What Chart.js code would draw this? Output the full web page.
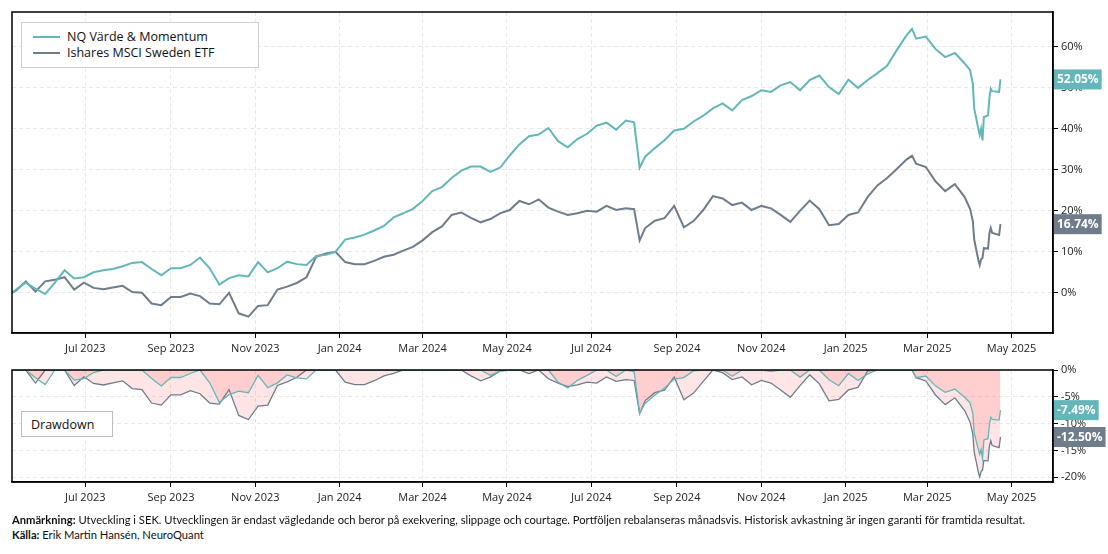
<!DOCTYPE html>
<html>
<head>
<meta charset="utf-8">
<script src="https://cdn.jsdelivr.net/npm/chart.js@4.4.1/dist/chart.umd.min.js"></script>
<style>
  body { margin: 0; width: 1108px; height: 554px; background: #fff; position: relative; overflow: hidden; font-family: "Open Sans", sans-serif; color: #111; }
  #topWrap { position: absolute; left: 0; top: 0; width: 1108px; height: 362px; }
  #ddWrap { position: absolute; left: 0; top: 358px; width: 1108px; height: 152px; }
  .legend { position: absolute; left: 21px; top: 22px; width: 236px; height: 44px; border: 1px solid #cfcfcf; background: #fff; font-size: 12.5px; }
  .legend .row { position: absolute; left: 11px; height: 16px; line-height: 16px; white-space: nowrap; }
  .legend .swatch { display: inline-block; width: 27px; height: 2px; vertical-align: middle; margin-right: 7px; position: relative; top: -1px; }
  .ddbox { position: absolute; left: 21px; top: 411px; height: 26px; border: 1px solid #bdbdbd; background: #fff; font-size: 12.5px; line-height: 26px; padding-left: 9px; box-sizing: border-box; width: 92px; }
  .foot { position: absolute; left: 12px; font-family: Lato, sans-serif; font-size: 11.2px; white-space: nowrap; }
</style>
</head>
<body>
<div id="topWrap"><canvas id="mainChart" width="1108" height="362"></canvas></div>
<div id="ddWrap"><canvas id="ddChart" width="1108" height="152"></canvas></div>
<div class="legend" id="legend"></div>
<div class="ddbox">Drawdown</div>
<div class="foot" style="top:513px"><b>Anmärkning:</b> Utveckling i SEK. Utvecklingen är endast vägledande och beror på exekvering, slippage och courtage. Portföljen rebalanseras månadsvis. Historisk avkastning är ingen garanti för framtida resultat.</div>
<div class="foot" style="top:528px"><b>Källa:</b> Erik Martin Hansén, NeuroQuant</div>

<script>
// ---- data (cumulative return in %) ----
const seriesNames = ["NQ Värde & Momentum", "Ishares MSCI Sweden ETF"];
const seriesColors = ["#63b6b9", "#6f7c8c"];

const dates = [
  "2023-05-09","2023-05-12","2023-05-19","2023-05-26","2023-06-02","2023-06-09","2023-06-16","2023-06-23","2023-06-30",
  "2023-07-07","2023-07-14","2023-07-21","2023-07-28","2023-08-04","2023-08-11","2023-08-18","2023-08-25",
  "2023-09-01","2023-09-08","2023-09-15","2023-09-22","2023-09-29","2023-10-06","2023-10-13","2023-10-20","2023-10-27",
  "2023-11-03","2023-11-10","2023-11-17","2023-11-24","2023-12-01","2023-12-08","2023-12-15","2023-12-22","2023-12-29",
  "2024-01-05","2024-01-12","2024-01-19","2024-01-26","2024-02-02","2024-02-09","2024-02-16","2024-02-23",
  "2024-03-01","2024-03-08","2024-03-15","2024-03-22","2024-03-29","2024-04-05","2024-04-12","2024-04-19","2024-04-26",
  "2024-05-03","2024-05-10","2024-05-17","2024-05-24","2024-05-31","2024-06-07","2024-06-14","2024-06-21","2024-06-28",
  "2024-07-05","2024-07-12","2024-07-19","2024-07-26","2024-08-01","2024-08-05","2024-08-09","2024-08-16","2024-08-23","2024-08-30",
  "2024-09-06","2024-09-13","2024-09-20","2024-09-27","2024-10-04","2024-10-11","2024-10-18","2024-10-25",
  "2024-11-01","2024-11-08","2024-11-15","2024-11-22","2024-11-29","2024-12-06","2024-12-13","2024-12-20","2024-12-27",
  "2025-01-03","2025-01-10","2025-01-17","2025-01-24","2025-01-31","2025-02-07","2025-02-14","2025-02-18","2025-02-21","2025-02-28",
  "2025-03-07","2025-03-14","2025-03-21","2025-03-28","2025-04-01","2025-04-03","2025-04-04","2025-04-07","2025-04-08","2025-04-09",
  "2025-04-10","2025-04-11","2025-04-14","2025-04-15","2025-04-16","2025-04-17","2025-04-22","2025-04-23"
];

const nqValues = [
  0, 0.8, 2.5, 1.0, -0.3, 2.5, 5.5, 3.5, 3.8,
  5.0, 5.5, 5.8, 6.5, 7.3, 7.5, 5.8, 4.3,
  6.0, 6.0, 6.8, 8.6, 6.0, 2.0, 3.6, 4.3, 4.0,
  7.5, 5.0, 6.0, 7.6, 7.0, 6.8, 9.0, 9.3, 10.0,
  13.0, 13.5, 14.2, 15.2, 16.3, 18.4, 19.4, 20.5,
  22.4, 24.8, 25.8, 28.0, 29.8, 30.8, 30.8, 29.5, 30.5,
  33.5, 36.2, 38.2, 38.6, 40.2, 37.0, 35.5, 37.5, 38.8,
  40.8, 41.5, 39.8, 42.0, 41.6, 30.5, 33.2, 35.3, 37.2, 39.6,
  40.0, 41.8, 43.2, 45.0, 46.2, 44.5, 47.0, 48.0,
  49.4, 49.0, 50.6, 51.4, 49.4, 51.9, 53.0, 50.2, 48.5,
  52.0, 50.0, 51.9, 53.6, 55.4, 59.2, 62.8, 64.36, 62.0, 62.5,
  59.5, 57.5, 58.5, 56.0, 54.3, 51.0, 45.0, 40.0, 38.5, 40.0,
  37.2, 42.9, 43.3, 47.5, 49.8, 49.2, 49.0, 52.05
];

const etfValues = [
  0, 0.6, 2.8, 0.3, 2.8, 3.2, 3.8, 0.8, 2.5,
  1.2, 0.9, 1.3, 1.7, 0.2, 0.0, -2.6, -3.0,
  -1.0, -1.0, -0.2, -0.8, -2.6, -2.8, 0.0, -5.0, -5.8,
  -3.2, -3.0, 0.8, 1.5, 2.4, 3.8, 8.8, 9.6, 10.0,
  7.5, 7.0, 7.0, 7.8, 8.8, 9.3, 10.3, 11.2,
  12.8, 14.8, 16.2, 19.0, 19.6, 18.3, 17.2, 18.0, 19.4,
  20.2, 22.4, 21.6, 22.8, 20.8, 19.8, 19.0, 19.4, 20.0,
  19.8, 21.2, 20.2, 20.6, 20.4, 12.8, 15.8, 17.6, 18.2, 21.2,
  16.0, 17.5, 20.2, 23.6, 23.0, 21.4, 22.0, 20.2,
  21.2, 20.6, 19.0, 17.3, 20.0, 22.5, 20.4, 16.5, 16.8,
  19.0, 19.6, 23.4, 26.2, 28.0, 30.2, 32.5, 33.42, 31.5, 30.7,
  27.2, 24.8, 26.5, 23.4, 20.5, 17.5, 13.0, 8.0, 6.8, 8.2,
  8.5, 10.9, 10.8, 14.5, 15.8, 14.6, 14.1, 16.74
];

const xStart = "2023-05-09";
const xEnd = "2025-05-31";
const tickDates = ["2023-07-01","2023-09-01","2023-11-01","2024-01-01","2024-03-01","2024-05-01",
                   "2024-07-01","2024-09-01","2024-11-01","2025-01-01","2025-03-01","2025-05-01"];
const tickLabels = ["Jul 2023","Sep 2023","Nov 2023","Jan 2024","Mar 2024","May 2024",
                    "Jul 2024","Sep 2024","Nov 2024","Jan 2025","Mar 2025","May 2025"];
const mainTicks = [0, 10, 20, 30, 40, 50, 60];
const ddTicks = [0, -5, -10, -15, -20];

// ---- helpers ----
const FONT = "'Open Sans', sans-serif";
const toDay = s => { const [y, m, d] = s.split("-").map(Number); return Date.UTC(y, m - 1, d) / 86400000; };
const xDays = dates.map(toDay);
const tickDays = tickDates.map(toDay);

function drawdown(vals) {
  let peak = -Infinity;
  return vals.map(v => {
    const w = 1 + v / 100;
    peak = Math.max(peak, w);
    return (w / peak - 1) * 100;
  });
}

const toPoints = vals => vals.map((v, i) => ({ x: xDays[i], y: v }));

// black frame round the plot area
const framePlugin = {
  id: "frame",
  afterDatasetsDraw(chart) {
    const a = chart.chartArea, ctx = chart.ctx;
    ctx.save();
    ctx.strokeStyle = "#000";
    ctx.lineWidth = 1.5;
    ctx.strokeRect(a.left, a.top, a.right - a.left, a.bottom - a.top);
    ctx.restore();
  }
};

// coloured last-value badges on the right axis
const badgePlugin = {
  id: "badges",
  afterDraw(chart) {
    const ctx = chart.ctx, y = chart.scales.y, a = chart.chartArea;
    ctx.save();
    ctx.font = "bold 12px " + FONT;
    ctx.textBaseline = "middle";
    ctx.textAlign = "center";
    chart.data.datasets.forEach(ds => {
      const last = ds.data[ds.data.length - 1].y;
      const txt = last.toFixed(2) + "%";
      const py = y.getPixelForValue(last);
      const w = Math.max(44, ctx.measureText(txt).width + 6);
      ctx.fillStyle = ds.borderColor;
      ctx.fillRect(a.right + 1, py - 10, w, 20);
      ctx.fillStyle = "#fff";
      ctx.fillText(txt, a.right + 1 + w / 2, py + 0.5);
    });
    ctx.restore();
  }
};

function xScale(h) {
  return {
    type: "linear",
    min: toDay(xStart),
    max: toDay(xEnd),
    afterBuildTicks: s => { s.ticks = tickDays.map(v => ({ value: v })); },
    afterFit: s => { s.height = h; },
    ticks: {
      callback: v => tickLabels[tickDays.indexOf(v)],
      color: "#222", font: { size: 11, family: FONT }, maxRotation: 0, autoSkip: false, padding: 4
    },
    grid: { color: "#e9e9e9", tickColor: "#000", tickLength: 5 },
    border: { color: "#000", width: 1.5, dash: [4, 3] }
  };
}

function yScale(min, max, list) {
  return {
    position: "right",
    min: min, max: max,
    afterBuildTicks: s => { s.ticks = list.map(v => ({ value: v })); },
    afterFit: s => { s.width = 55; },
    ticks: { callback: v => v + "%", color: "#222", font: { size: 11, family: FONT }, padding: 3 },
    grid: { color: "#e9e9e9", tickColor: "#000", tickLength: 5 },
    border: { color: "#000", width: 1.5, dash: [4, 3] }
  };
}

const baseOpts = {
  responsive: false,
  animation: false,
  plugins: { legend: { display: false }, tooltip: { enabled: false } },
  elements: { point: { radius: 0 }, line: { tension: 0 } }
};

// ---- main chart ----
new Chart(document.getElementById("mainChart"), {
  type: "line",
  data: {
    datasets: [
      { label: seriesNames[0], data: toPoints(nqValues), borderColor: seriesColors[0], borderWidth: 2 },
      { label: seriesNames[1], data: toPoints(etfValues), borderColor: seriesColors[1], borderWidth: 2 }
    ]
  },
  options: Object.assign({}, baseOpts, {
    layout: { padding: { left: 12, top: 12, right: 0, bottom: 0 } },
    scales: { x: xScale(29), y: yScale(-9.8, 68.5, mainTicks) }
  }),
  plugins: [framePlugin, badgePlugin]
});

// ---- drawdown chart ----
const ddFill = "rgba(255,0,0,0.1)";
new Chart(document.getElementById("ddChart"), {
  type: "line",
  data: {
    datasets: [
      { label: seriesNames[0], data: toPoints(drawdown(nqValues)), borderColor: seriesColors[0], borderWidth: 1.3, fill: "origin", backgroundColor: ddFill },
      { label: seriesNames[1], data: toPoints(drawdown(etfValues)), borderColor: seriesColors[1], borderWidth: 1.3, fill: "origin", backgroundColor: ddFill }
    ]
  },
  options: Object.assign({}, baseOpts, {
    layout: { padding: { left: 12, top: 12, right: 0, bottom: 0 } },
    scales: { x: xScale(28), y: yScale(-20.9, 0, ddTicks) }
  }),
  plugins: [framePlugin, badgePlugin]
});

// ---- legend ----
const legendEl = document.getElementById("legend");
seriesNames.forEach((name, i) => {
  const row = document.createElement("div");
  row.className = "row";
  row.style.top = (6 + i * 16) + "px";
  row.innerHTML = `<span class="swatch" style="background:${seriesColors[i]}"></span>${name}`;
  legendEl.appendChild(row);
});
</script>
</body>
</html>
